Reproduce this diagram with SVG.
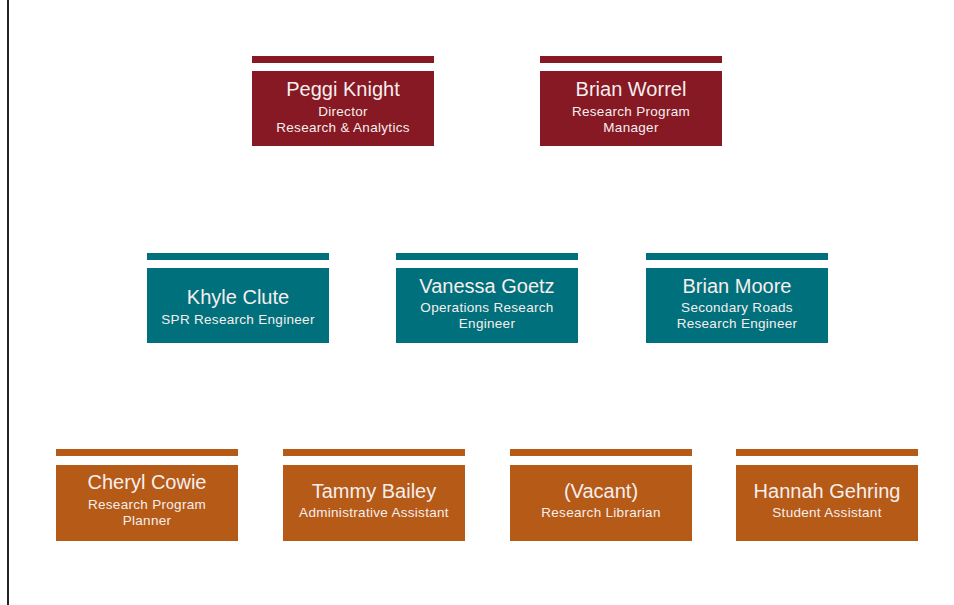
<svg xmlns="http://www.w3.org/2000/svg" width="954" height="605" viewBox="0 0 954 605">
<style>
.bg{fill:#ffffff}
.m{fill:#861923}
.t{fill:#00717c}
.o{fill:#b55a17}
.nm{font-family:"Liberation Sans",Arial,sans-serif;font-size:20px;fill:#f7eeee;text-anchor:middle}
.sb{font-family:"Liberation Sans",Arial,sans-serif;font-size:13.5px;letter-spacing:0.3px;fill:#f7eeee;text-anchor:middle}
</style>
<rect class="bg" x="0" y="0" width="954" height="605"/>
<g id="connectors">
<line x1="8" y1="0" x2="8" y2="605" stroke="#222" stroke-width="2"/>
</g>
<g id="peggi">
<rect class="m" x="252" y="56" width="182" height="7"/>
<rect class="m" x="252" y="71" width="182" height="75"/>
<text class="nm" x="343" y="96">Peggi Knight</text>
<text class="sb" x="343" y="116">Director</text>
<text class="sb" x="343" y="132">Research &amp; Analytics</text>
</g>
<g id="brian-w">
<rect class="m" x="540" y="56" width="182" height="7"/>
<rect class="m" x="540" y="71" width="182" height="75"/>
<text class="nm" x="631" y="96">Brian Worrel</text>
<text class="sb" x="631" y="116">Research Program</text>
<text class="sb" x="631" y="132">Manager</text>
</g>
<g id="khyle">
<rect class="t" x="147" y="253" width="182" height="7"/>
<rect class="t" x="147" y="268" width="182" height="75"/>
<text class="nm" x="238" y="304">Khyle Clute</text>
<text class="sb" x="238" y="324">SPR Research Engineer</text>
</g>
<g id="vanessa">
<rect class="t" x="396" y="253" width="182" height="7"/>
<rect class="t" x="396" y="268" width="182" height="75"/>
<text class="nm" x="487" y="293">Vanessa Goetz</text>
<text class="sb" x="487" y="312">Operations Research</text>
<text class="sb" x="487" y="328">Engineer</text>
</g>
<g id="brian-m">
<rect class="t" x="646" y="253" width="182" height="7"/>
<rect class="t" x="646" y="268" width="182" height="75"/>
<text class="nm" x="737" y="293">Brian Moore</text>
<text class="sb" x="737" y="312">Secondary Roads</text>
<text class="sb" x="737" y="328">Research Engineer</text>
</g>
<g id="cheryl">
<rect class="o" x="56" y="449" width="182" height="7"/>
<rect class="o" x="56" y="465" width="182" height="76"/>
<text class="nm" x="147" y="489">Cheryl Cowie</text>
<text class="sb" x="147" y="509">Research Program</text>
<text class="sb" x="147" y="525">Planner</text>
</g>
<g id="tammy">
<rect class="o" x="283" y="449" width="182" height="7"/>
<rect class="o" x="283" y="465" width="182" height="76"/>
<text class="nm" x="374" y="498">Tammy Bailey</text>
<text class="sb" x="374" y="517">Administrative Assistant</text>
</g>
<g id="vacant">
<rect class="o" x="510" y="449" width="182" height="7"/>
<rect class="o" x="510" y="465" width="182" height="76"/>
<text class="nm" x="601" y="498">(Vacant)</text>
<text class="sb" x="601" y="517">Research Librarian</text>
</g>
<g id="hannah">
<rect class="o" x="736" y="449" width="182" height="7"/>
<rect class="o" x="736" y="465" width="182" height="76"/>
<text class="nm" x="827" y="498">Hannah Gehring</text>
<text class="sb" x="827" y="517">Student Assistant</text>
</g>
</svg>
